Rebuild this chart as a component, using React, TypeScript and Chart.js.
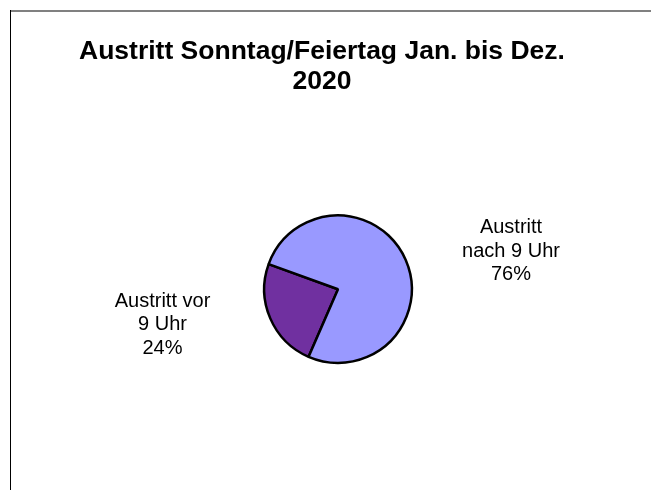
import React, { useEffect, useRef } from "react";
import { Chart, registerables } from "chart.js";

Chart.register(...registerables);

const titleLines: string[] = ["Austritt Sonntag/Feiertag Jan. bis Dez.", "2020"];
const categories: string[] = ["Austritt vor 9 Uhr", "Austritt nach 9 Uhr"];
const categoryLines: string[][] = [["Austritt vor", "9 Uhr"], ["Austritt", "nach 9 Uhr"]];
const values: number[] = [24, 76];
const colors: string[] = ["#7030A0", "#9999FF"];

const FONT = "'Liberation Sans', Arial, Helvetica, sans-serif";

const decorPlugin = {
  id: "decor",
  beforeDraw(chart: any) {
    const ctx = chart.ctx;
    ctx.save();
    ctx.fillStyle = "#ffffff";
    ctx.fillRect(0, 0, chart.width, chart.height);
    ctx.fillStyle = "#808080";
    ctx.fillRect(10, 10, chart.width - 10, 2);
    ctx.fillStyle = "#000000";
    ctx.fillRect(10, 10, 1, chart.height - 10);
    ctx.restore();
  },
  afterDraw(chart: any) {
    const ctx = chart.ctx;
    ctx.save();
    ctx.fillStyle = "#000000";
    ctx.textAlign = "center";
    ctx.textBaseline = "alphabetic";
    ctx.font = `bold 26.5px ${FONT}`;
    titleLines.forEach((t, i) => ctx.fillText(t, 322, 58.5 + i * 30));

    const meta = chart.getDatasetMeta(0);
    const total = values.reduce((a, b) => a + b, 0);
    ctx.font = `20px ${FONT}`;
    meta.data.forEach((arc: any, i: number) => {
      const mid = (arc.startAngle + arc.endAngle) / 2;
      const right = Math.cos(mid) > 0;
      const x = arc.x + (right ? 173 : -175.5);
      const y0 = arc.y + (right ? -56 : 17.5);
      const lines = [...categoryLines[i], Math.round((values[i] / total) * 100) + "%"];
      lines.forEach((l, j) => ctx.fillText(l, x, y0 + j * 23.5));
    });
    ctx.restore();
  },
};

export default function App() {
  const ref = useRef<HTMLCanvasElement | null>(null);
  useEffect(() => {
    if (!ref.current) return;
    const chart = new Chart(ref.current, {
      type: "pie",
      data: {
        labels: categories,
        datasets: [
          {
            data: values,
            backgroundColor: colors,
            borderColor: "#000000",
            borderWidth: 2.5,
          },
        ],
      },
      options: {
        animation: false,
        responsive: false,
        rotation: 203.5,
        layout: { padding: { left: 263, right: 651 - 413, top: 214, bottom: 490 - 364.4 } },
        plugins: {
          legend: { display: false },
          title: { display: false },
          tooltip: { enabled: false },
        },
      },
      plugins: [decorPlugin],
    });
    return () => chart.destroy();
  }, []);
  return (
    <div style={{ position: "absolute", left: 0, top: 0, width: 651, height: 490 }}>
      <canvas ref={ref} width={651} height={490} style={{ display: "block" }} />
    </div>
  );
}
